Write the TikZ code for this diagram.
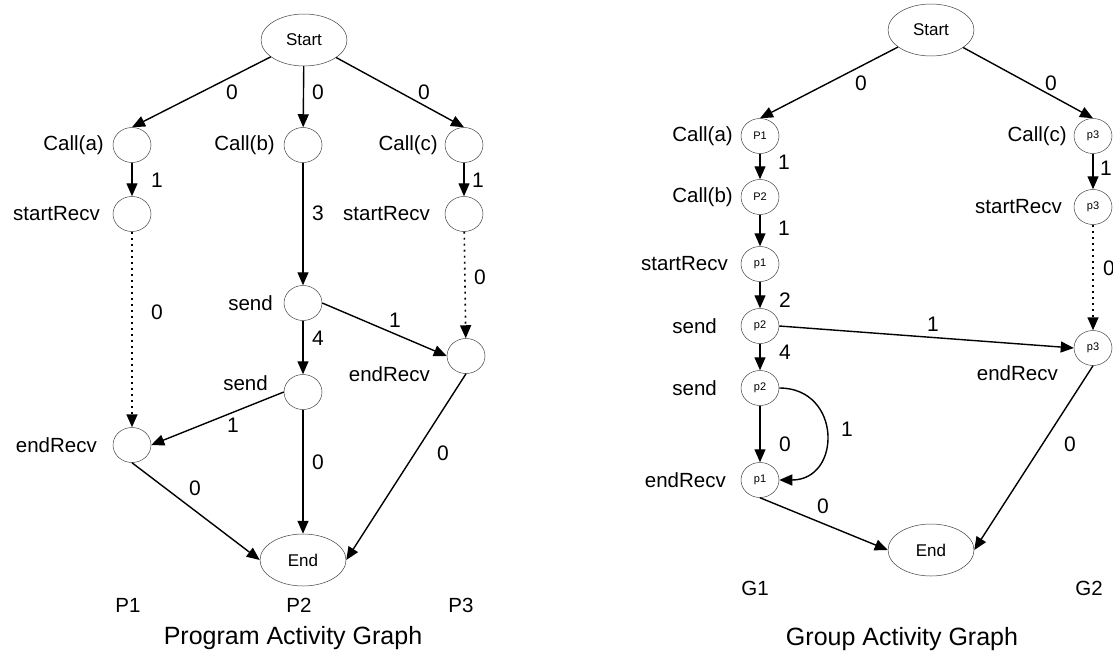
\documentclass[tikz,border=0pt]{standalone}
\usepackage{fontspec}
\setmainfont{Liberation Sans}
\usetikzlibrary{shapes.geometric,arrows.meta}
\tikzset{
  term/.style={ellipse, draw=black!75, line width=0.5pt, minimum width=86pt, minimum height=52pt, inner sep=0pt, font=\fontsize{17}{20}\selectfont},
  act/.style={ellipse, draw=black!75, line width=0.5pt, minimum width=38pt, minimum height=35pt, inner sep=0pt, font=\fontsize{11}{13}\selectfont},
  lab/.style={inner sep=0pt, font=\fontsize{20.5}{24}\selectfont},
  wt/.style={inner sep=0pt, font=\fontsize{21}{25}\selectfont},
  ttl/.style={inner sep=0pt, font=\fontsize{25}{30}\selectfont},
  arr/.style={line width=1.4pt, -{Triangle[length=13pt,width=11pt]}},
  dotarr/.style={line width=1.6pt, dash pattern=on 1.8pt off 4.2pt, -{Triangle[length=13pt,width=11pt]}},
}
\begin{document}
\begin{tikzpicture}[x=1pt, y=-1pt]
\useasboundingbox (0,0) rectangle (1113,653);

% ---------- program activity graph ----------
\node[term] (S) at (304,40) {Start};
\node[act] (ca) at (132,145) {};
\node[act] (cb) at (303,145) {};
\node[act] (cc) at (464,145) {};
\node[act] (sra) at (132,214) {};
\node[act] (src) at (464,214) {};
\node[act] (sd) at (303,303) {};
\node[act] (er) at (466,356) {};
\node[act] (sd2) at (303,392) {};
\node[act] (el) at (132,445) {};
\node[term] (E) at (303,560) {End};

\node[lab, anchor=east] (lca) at (104,145) {Call(a)};
\node[lab, anchor=east] (lcb) at (275,145) {Call(b)};
\node[lab, anchor=east] (lcc) at (438,145) {Call(c)};
\node[lab, anchor=east] (lsra) at (100,214) {startRecv};
\node[lab, anchor=east] (lsrc) at (430,214) {startRecv};
\node[lab, anchor=east] (lsd) at (273,303) {send};
\node[lab, anchor=east] (lsd2) at (268,383) {send};
\node[lab, anchor=east] (ler) at (430,374) {endRecv};
\node[lab, anchor=east] (lel) at (97,445) {endRecv};

\draw[arr] (S) -- (ca.north);
\draw[arr] (S) -- (cb);
\draw[arr] (S) -- (cc.north);
\draw[arr] (ca) -- (sra);
\draw[arr] (cc) -- (src);
\draw[arr] (cb) -- (sd);
\draw[dotarr] (sra) -- (el);
\draw[dotarr] (src) -- (er);
\draw[arr] (sd.east) -- (er.west);
\draw[arr] (sd) -- (sd2);
\draw[arr] (sd2.west) -- (el.east);
\draw[arr] (el.south) -- (E.west);
\draw[arr] (sd2) -- (E);
\draw[arr] (er.south) -- (E.east);

\node[wt] (w1) at (232,92) {0};
\node[wt] (w2) at (318,92) {0};
\node[wt] (w3) at (424,92) {0};
\node[wt] (w4) at (157,180) {1};
\node[wt] (w5) at (478,180) {1};
\node[wt] (w6) at (318,213) {3};
\node[wt] (w7) at (157,312) {0};
\node[wt] (w8) at (480,277) {0};
\node[wt] (w9) at (395,320) {1};
\node[wt] (w10) at (318,338) {4};
\node[wt] (w11) at (233,425) {1};
\node[wt] (w12) at (195,488) {0};
\node[wt] (w13) at (318,462) {0};
\node[wt] (w14) at (443,453) {0};

\node[lab] (p1) at (128,605) {P1};
\node[lab] (p2) at (299,605) {P2};
\node[lab] (p3) at (461,605) {P3};
\node[ttl] (t1) at (293,638) {Program Activity Graph};

% ---------- group activity graph ----------
\node[term] (S2) at (931,30) {Start};
\node[act] (ga) at (760,136) {P1};
\node[act] (gb) at (760,197) {P2};
\node[act] (gsr) at (760,264) {p1};
\node[act] (gs1) at (760,326) {p2};
\node[act] (gs2) at (760,388) {p2};
\node[act] (ger) at (760,480) {p1};
\node[act] (hc) at (1093,136) {p3};
\node[act] (hsr) at (1093,207) {p3};
\node[act] (her) at (1093,348) {p3};
\node[term] (E2) at (931,550) {End};

\node[lab, anchor=east] (lga) at (733,136) {Call(a)};
\node[lab, anchor=east] (lgb) at (733,197) {Call(b)};
\node[lab, anchor=east] (lgsr) at (728,264) {startRecv};
\node[lab, anchor=east] (lgs1) at (717,326) {send};
\node[lab, anchor=east] (lgs2) at (717,388) {send};
\node[lab, anchor=east] (lger) at (726,480) {endRecv};
\node[lab, anchor=east] (lhc) at (1067,136) {Call(c)};
\node[lab, anchor=east] (lhsr) at (1062,207) {startRecv};
\node[lab, anchor=east] (lher) at (1058,373) {endRecv};

\draw[arr] (S2) -- (ga.north);
\draw[arr] (S2) -- (hc.north);
\draw[arr] (ga) -- (gb);
\draw[arr] (gb) -- (gsr);
\draw[arr] (gsr) -- (gs1);
\draw[arr] (gs1) -- (gs2);
\draw[arr] (gs2) -- (ger);
\draw[arr] (gs2.east) .. controls (842,388) and (842,480) .. (ger.east);
\draw[arr] (gs1.east) -- (her.west);
\draw[arr] (hc) -- (hsr);
\draw[dotarr] (hsr) -- (her);
\draw[arr] (ger.south) -- (E2.west);
\draw[arr] (her.south) -- (E2.east);

\node[wt] (v1) at (861,83) {0};
\node[wt] (v2) at (1051,83) {0};
\node[wt] (v3) at (784,162) {1};
\node[wt] (v4) at (784,228) {1};
\node[wt] (v5) at (785,300) {2};
\node[wt] (v6) at (1106,168) {1};
\node[wt] (v7) at (1109,268) {0};
\node[wt] (v8) at (933,324) {1};
\node[wt] (v9) at (785,352) {4};
\node[wt] (v10) at (785,444) {0};
\node[wt] (v11) at (847,429) {1};
\node[wt] (v12) at (823,506) {0};
\node[wt] (v13) at (1070,444) {0};

\node[lab] (g1) at (755,588) {G1};
\node[lab] (g2) at (1089,588) {G2};
\node[ttl] (t2) at (902,639) {Group Activity Graph};
\end{tikzpicture}
\end{document}
